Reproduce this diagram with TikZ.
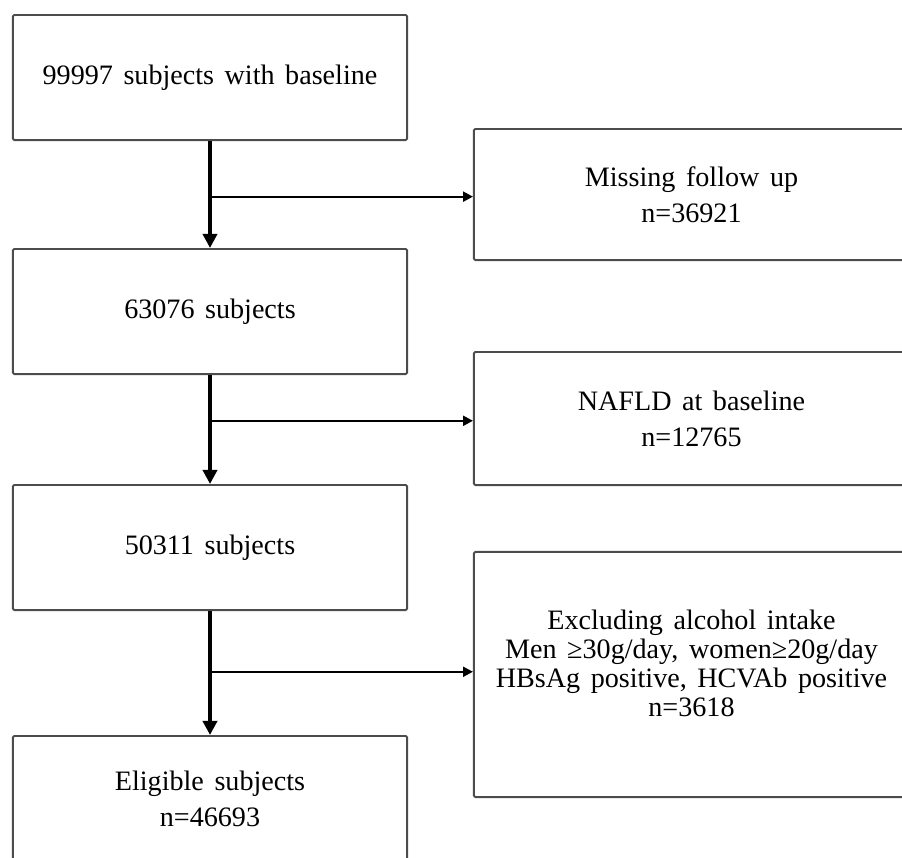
\documentclass[tikz,border=0pt]{standalone}
\usepackage{fontspec}
\setmainfont{Liberation Serif}[WordSpace=1.5]
\usetikzlibrary{arrows.meta,calc,positioning}

\begin{document}
\begin{tikzpicture}[x=0.025cm,y=-0.025cm,>={Triangle[length=10pt,width=10pt]},
    main box/.style={draw=black!70,line width=1.4pt,rounded corners=1pt,minimum width=9.85cm,minimum height=3.125cm,align=center,font=\fontsize{20}{25.6}\selectfont},
    side box/.style={main box,minimum width=10.875cm},
    flow/.style={->,line width=2.8pt},
    branch/.style={->,line width=1.6pt,>={Triangle[length=7pt,width=7pt]}}]

                \useasboundingbox (0,0) rectangle (902,857);
                \clip (0,0) rectangle (902,857);

                % main column
                \node[main box] (base) at (210,77.5) {99997 subjects with baseline};
                \node[main box] (s63) at (210,311.5) {63076 subjects};
                \node[main box] (s50) at (210,547.5) {50311 subjects};
                \node[main box] (elig) at (210,798.5) {Eligible subjects\\n=46693};

                % excluded
                \node[side box,minimum height=3.275cm] (miss) at (691.5,194.5) {Missing follow up\\n=36921};
                \node[side box,minimum height=3.325cm] (nafld) at (691.5,418.5) {NAFLD at baseline\\n=12765};
                \node[side box,minimum height=6.125cm,text depth=0.55cm,font=\fontsize{20}{20.6}\selectfont] (alc) at (691.5,674.5)
                    {Excluding alcohol intake\\Men ≥30g/day, women≥20g/day\\HBsAg positive, HCVAb positive\\n=3618};

                \foreach \from/\to/\side/\pos in {base/s63/miss/0.52, s63/s50/nafld/0.42, s50/elig/alc/0.49}{
                    \draw[flow] (\from.south) -- (\to.north);
                    \coordinate (j\side) at ($(\from.south)!\pos!(\to.north)$);
                    \draw[branch] (j\side) -- (j\side -| \side.west);
                }

            \end{tikzpicture}
\end{document}
